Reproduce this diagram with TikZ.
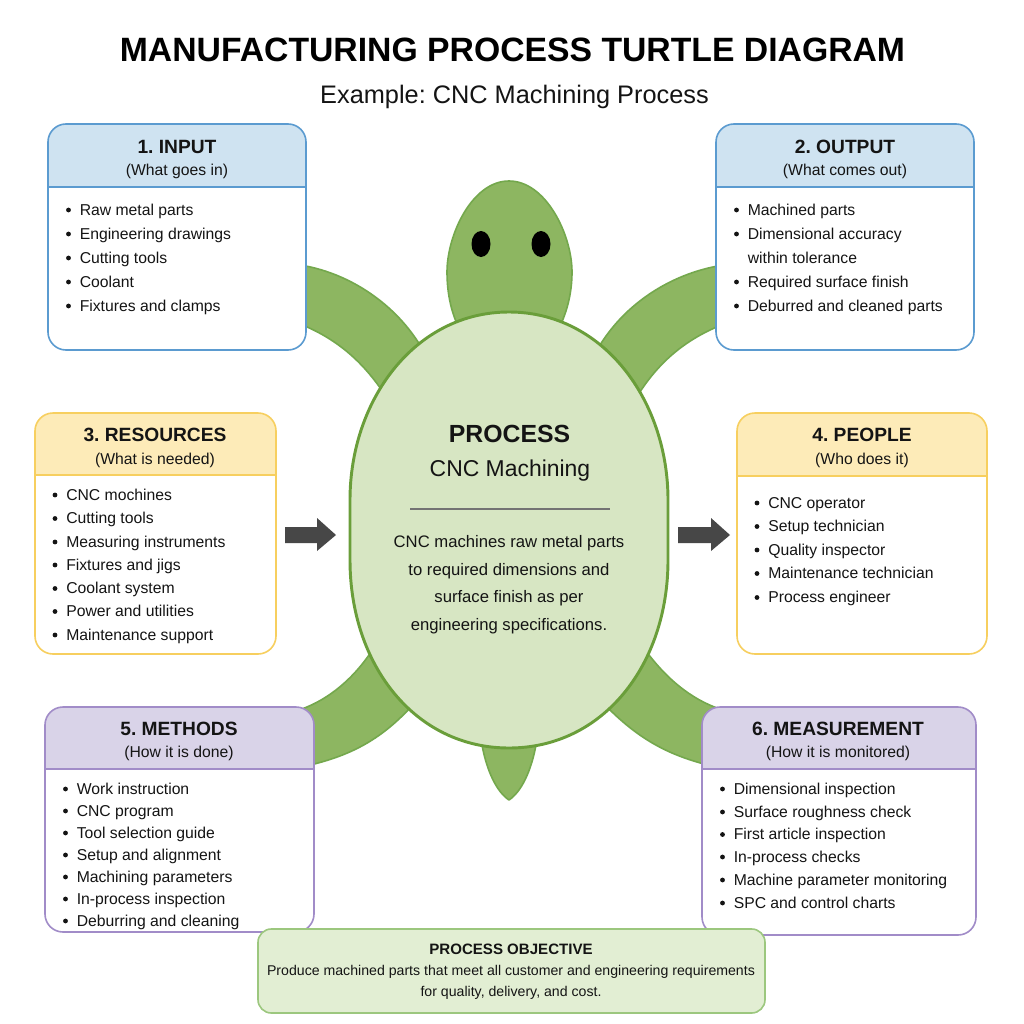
\documentclass[tikz,border=0pt]{standalone}
\usepackage{fontspec}
\setmainfont{Liberation Sans}
\definecolor{blueFill}{HTML}{CFE3F1}
\definecolor{blueLine}{HTML}{5B9BD0}
\definecolor{yellowFill}{HTML}{FDEBB8}
\definecolor{yellowLine}{HTML}{F7CF5F}
\definecolor{purpleFill}{HTML}{D9D3E8}
\definecolor{purpleLine}{HTML}{A18CC8}
\definecolor{shellFill}{HTML}{D7E6C3}
\definecolor{shellLine}{HTML}{6A9E3A}
\definecolor{limbFill}{HTML}{8DB661}
\definecolor{limbLine}{HTML}{74A84D}
\definecolor{goalFill}{HTML}{E2EED3}
\definecolor{goalLine}{HTML}{9CC77E}
\definecolor{ink}{HTML}{141414}
\newcommand{\fs}[1]{\fontsize{#1}{#1}\selectfont}
\tikzset{
  limb/.style={fill=limbFill,draw=limbLine,line width=1.2pt,line join=round},
  item/.style={anchor=base west,inner sep=0pt,text=ink,font=\fs{11.8}},
  dot/.style={circle,fill=ink,inner sep=0pt,minimum size=3.6pt},
  headline/.style={inner sep=0pt,text=ink,font=\fs{14.4}\bfseries},
  subline/.style={inner sep=0pt,text=ink,font=\fs{11.8}},
  copyline/.style={inner sep=0pt,text=ink,font=\fs{12.5}},
  blockarrow/.style={fill=black!72}
}
% Panel: name, left, top, right, bottom, header rule y, fill colour, line colour
\newcommand{\panel}[8]{
  \begin{scope}
    \path[clip,rounded corners=13.5pt] (#2,#3) rectangle (#4,#5);
    \fill[white] (#2,#3) rectangle (#4,#5);
    \fill[#7] (#2,#3) rectangle (#4,#6);
  \end{scope}
  \draw[#8,line width=1.2pt] (#2,#6) -- (#4,#6);
  \draw[#8,line width=1.2pt,rounded corners=13.5pt] (#2,#3) rectangle (#4,#5);
  \coordinate (#1) at ({(#2+#4)/2},#3);
}
% One bullet list entry: bullet x, text x, baseline y, text
\newcommand{\entry}[4]{
  \node[dot] at (#1,#3-5) {};
  \node[item] at (#2,#3) {#4};
}
\begin{document}
\frenchspacing
\begin{tikzpicture}[x=0.75pt,y=-0.75pt]
\useasboundingbox (0,0) rectangle (1024,1024);
\fill[white] (0,0) rectangle (1024,1024);

% title block
\node[inner sep=0pt,text=black,font=\fs{25.3}\bfseries] (title) at (512.5,50) {MANUFACTURING PROCESS TURTLE DIAGRAM};
\node[inner sep=0pt,text=ink,font=\fs{19}] (subtitle) at (514.5,97) {Example: CNC Machining Process};

% front flippers
\path[limb] (300,265) .. controls (345,272) and (392,300) .. (420,345) -- (385,395) .. controls (362,360) and (335,338) .. (300,324) -- cycle;
\path[limb] (724,265) .. controls (676,272) and (628,300) .. (600,345) -- (638,395) .. controls (660,360) and (688,338) .. (724,324) -- cycle;
% rear flippers
\path[limb] (296,711) .. controls (325,702) and (350,682) .. (369,655) -- (410,708) .. controls (380,740) and (350,756) .. (306,766) -- cycle;
\path[limb] (726,711) .. controls (695,702) and (670,682) .. (649,655) -- (608,708) .. controls (640,740) and (670,756) .. (712,766) -- cycle;
% tail
\path[limb] (482,745) .. controls (487,772) and (497,792) .. (509,800) .. controls (521,792) and (531,772) .. (536,745) -- cycle;
% head and eyes
\path[limb] (509,181) .. controls (472,181) and (447,235) .. (447,272) .. controls (447,295) and (452,315) .. (460,330) -- (558,330) .. controls (566,315) and (572,295) .. (572,272) .. controls (572,235) and (546,181) .. (509,181) -- cycle;
\fill[black] (481,244) ellipse [x radius=9.5,y radius=13];
\fill[black] (541,244) ellipse [x radius=9.5,y radius=13];
% shell
\draw[fill=shellFill,draw=shellLine,line width=2.2pt] (509,312) .. controls (415,312) and (350,400) .. (350,500) -- (350,560) .. controls (350,665) and (415,748) .. (509,748) .. controls (603,748) and (668,665) .. (668,560) -- (668,500) .. controls (668,400) and (603,312) .. (509,312) -- cycle;

% shell text
\node[inner sep=0pt,text=ink,font=\fs{18.6}\bfseries] (procname) at (509.5,433.5) {PROCESS};
\node[inner sep=0pt,text=ink,font=\fs{17.2}] (procsub) at (510,471) {CNC Machining};
\draw[black!55,line width=0.8pt] (410,509) -- (610,509);
\node[copyline] (d1) at (509,543.5) {CNC machines raw metal parts};
\node[copyline] (d2) at (509,571) {to required dimensions and};
\node[copyline] (d3) at (509,598.5) {surface finish as per};
\node[copyline] (d4) at (509,626.5) {engineering specifications.};

% block arrows
\fill[blockarrow] (285,527) -- (317,527) -- (317,518) -- (336,535) -- (317,551) -- (317,543) -- (285,543) -- cycle;
\fill[blockarrow] (678,527) -- (711,527) -- (711,518) -- (730,535) -- (711,551) -- (711,543) -- (678,543) -- cycle;

% panel 1
\panel{inputbox}{48}{124}{306}{350}{187}{blueFill}{blueLine}
\node[headline] (h1) at (177,146.5) {1. INPUT};
\node[subline] (s1) at (177,171.5) {(What goes in)};
\entry{68.5}{79.5}{215}{Raw metal parts}
\entry{68.5}{79.5}{239}{Engineering drawings}
\entry{68.5}{79.5}{263}{Cutting tools}
\entry{68.5}{79.5}{287}{Coolant}
\entry{68.5}{79.5}{311}{Fixtures and clamps}

% panel 2
\panel{outputbox}{716}{124}{974}{350}{187}{blueFill}{blueLine}
\node[headline] (h2) at (845,146.5) {2. OUTPUT};
\node[subline] (s2) at (845,171.5) {(What comes out)};
\entry{736.5}{747.5}{215}{Machined parts}
\entry{736.5}{747.5}{239}{Dimensional accuracy}
\node[item] at (747.5,263) {within tolerance};
\entry{736.5}{747.5}{287}{Required surface finish}
\entry{736.5}{747.5}{311}{Deburred and cleaned parts}

% panel 3
\panel{resourcebox}{35}{413}{276}{654}{475}{yellowFill}{yellowLine}
\node[headline] (h3) at (155,435) {3. RESOURCES};
\node[subline] (s3) at (155,460) {(What is needed)};
\entry{55}{66}{500}{CNC mochines}
\entry{55}{66}{523.5}{Cutting tools}
\entry{55}{66}{547}{Measuring instruments}
\entry{55}{66}{570}{Fixtures and jigs}
\entry{55}{66}{593.5}{Coolant system}
\entry{55}{66}{616.5}{Power and utilities}
\entry{55}{66}{640}{Maintenance support}

% panel 4
\panel{peoplebox}{737}{413}{987}{654}{476}{yellowFill}{yellowLine}
\node[headline] (h4) at (862,435) {4. PEOPLE};
\node[subline] (s4) at (862,460) {(Who does it)};
\entry{757}{768}{508}{CNC operator}
\entry{757}{768}{531.5}{Setup technician}
\entry{757}{768}{555}{Quality inspector}
\entry{757}{768}{578.5}{Maintenance technician}
\entry{757}{768}{602.5}{Process engineer}

% panel 5
\panel{methodbox}{45}{707}{314}{932}{769}{purpleFill}{purpleLine}
\node[headline] (h5) at (179,729) {5. METHODS};
\node[subline] (s5) at (179,753) {(How it is done)};
\entry{65.5}{76.5}{794}{Work instruction}
\entry{65.5}{76.5}{816}{CNC program}
\entry{65.5}{76.5}{838}{Tool selection guide}
\entry{65.5}{76.5}{860}{Setup and alignment}
\entry{65.5}{76.5}{882}{Machining parameters}
\entry{65.5}{76.5}{904}{In-process inspection}
\entry{65.5}{76.5}{926}{Deburring and cleaning}

% panel 6
\panel{measurebox}{702}{707}{976}{935}{769}{purpleFill}{purpleLine}
\node[headline] (h6) at (838,729) {6. MEASUREMENT};
\node[subline] (s6) at (838,753) {(How it is monitored)};
\entry{722.5}{733.5}{794}{Dimensional inspection}
\entry{722.5}{733.5}{817}{Surface roughness check}
\entry{722.5}{733.5}{839.5}{First article inspection}
\entry{722.5}{733.5}{862}{In-process checks}
\entry{722.5}{733.5}{885}{Machine parameter monitoring}
\entry{722.5}{733.5}{908}{SPC and control charts}

% objective banner
\draw[fill=goalFill,draw=goalLine,line width=1.2pt,rounded corners=10pt] (258,929) rectangle (765,1013);
\node[inner sep=0pt,text=ink,font=\fs{11.3}\bfseries] (goalhead) at (511,949) {PROCESS OBJECTIVE};
\node[inner sep=0pt,text=ink,font=\fs{10.6}] (goal1) at (511,972) {Produce machined parts that meet all customer and engineering requirements};
\node[inner sep=0pt,text=ink,font=\fs{10.6}] (goal2) at (511,993) {for quality, delivery, and cost.};
\end{tikzpicture}
\end{document}
